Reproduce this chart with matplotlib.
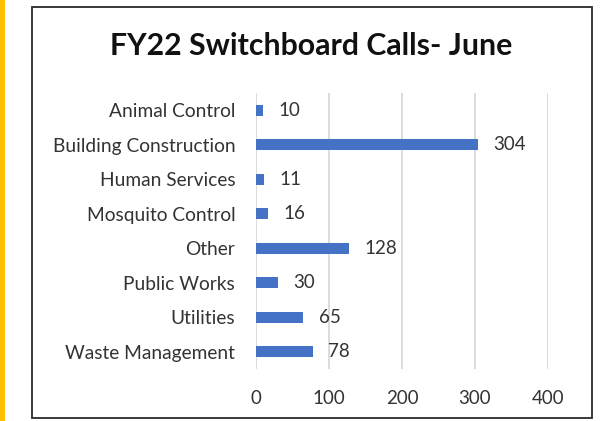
import matplotlib
matplotlib.use("Agg")
import matplotlib.pyplot as plt
from matplotlib.patches import Rectangle

categories = ["Animal Control", "Building Construction", "Human Services",
              "Mosquito Control", "Other", "Public Works", "Utilities",
              "Waste Management"]
calls = [10, 304, 11, 16, 128, 30, 65, 78]
xticks = [0, 100, 200, 300, 400]

plt.rcParams["font.family"] = ["Lato", "DejaVu Sans"]

W, H = 614, 421
fig = plt.figure(figsize=(W / 100, H / 100), dpi=100)
fig.patch.set_facecolor("white")

# yellow strip on the left and the chart frame
fig.add_artist(Rectangle((0, 0), 5 / W, 1, transform=fig.transFigure,
                         facecolor="#FFC000", edgecolor="none"))
fig.add_artist(Rectangle((32 / W, 1 - 418 / H), (592 - 32) / W, (418 - 7) / H,
                         transform=fig.transFigure, facecolor="none",
                         edgecolor="#2a2a2a", linewidth=1.3))

ax = fig.add_axes([256 / W, 1 - 369 / H, (548 - 256) / W, (369 - 93) / H])
y = list(range(len(categories)))
ax.barh(y, calls, height=0.33, color="#4472C4", zorder=3)
ax.set_ylim(len(categories) - 0.5, -0.5)
ax.set_xlim(0, 400)
ax.set_xticks(xticks)
ax.set_yticks(y)
ax.set_yticklabels(categories, fontsize=13.8, color="#333333")
ax.tick_params(axis="y", length=0, pad=15)
ax.tick_params(axis="x", length=0, pad=15, labelsize=13.5, labelcolor="#333333")
ax.grid(axis="x", color="#D9D9D9", linewidth=1.3, zorder=0)
for s in ax.spines.values():
    s.set_visible(False)

for yi, v in zip(y, calls):
    ax.annotate(str(v), (v, yi), xytext=(11, 0), textcoords="offset points",
                va="center", ha="left", fontsize=13.5, color="#333333")

fig.text(311.5 / W, 1 - 46 / H, "FY22 Switchboard Calls- June",
         ha="center", va="center", fontsize=21.8, fontweight="bold",
         color="#111111")

fig.savefig("out.png", dpi=100)
